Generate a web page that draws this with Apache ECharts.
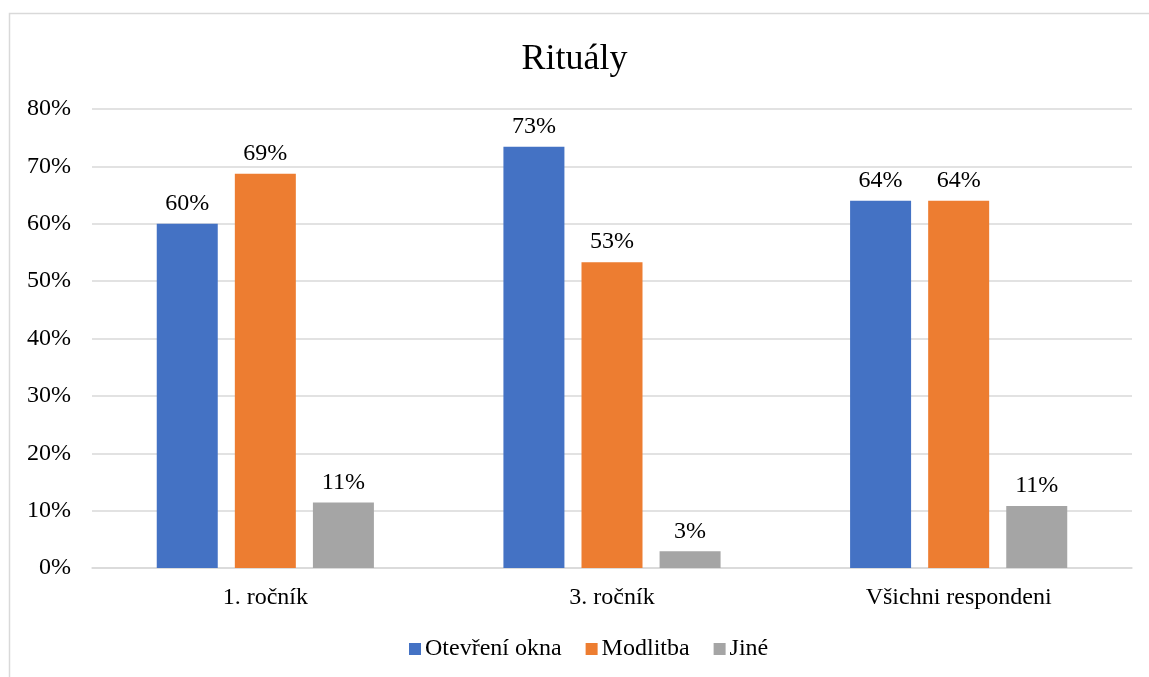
<!DOCTYPE html>
<html>
<head>
<meta charset="utf-8">
<title>Rituály</title>
<script src="https://cdn.jsdelivr.net/npm/echarts@6/dist/echarts.min.js"></script>
<style>
  html, body { margin: 0; padding: 0; background: #ffffff; }
  #chart { width: 1149px; height: 677px; }
</style>
</head>
<body>
<div id="chart"></div>
<script>
// Categories of respondents
const categories = ['1. ročník', '3. ročník', 'Všichni respondeni'];

// Share of respondents per ritual (percent)
const oknaValues = [60, 73.4, 64];
const modlitbaValues = [68.7, 53.3, 64];
const jineValues = [11.4, 2.9, 10.8];

const seriesNames = ['Otevření okna', 'Modlitba', 'Jiné'];
const seriesColors = ['#4472C4', '#ED7D31', '#A5A5A5'];

// Y axis ticks
const yTicks = [0, 10, 20, 30, 40, 50, 60, 70, 80];

const FONT = '"Liberation Serif", "Times New Roman", serif';

const chart = echarts.init(document.getElementById('chart'), null, { renderer: 'canvas' });

const labelStyle = {
  show: true,
  position: 'top',
  distance: 8,
  fontFamily: FONT,
  fontSize: 24,
  color: '#000000',
  formatter: p => Math.round(p.value) + '%'
};

function makeSeries(name, data, color) {
  return {
    name: name,
    type: 'bar',
    data: data,
    barWidth: 61,
    barGap: '28%',
    itemStyle: { color: color },
    label: labelStyle,
    emphasis: { disabled: true }
  };
}

chart.setOption({
  animation: false,
  backgroundColor: '#ffffff',
  graphic: [{
    type: 'rect',
    left: 7,
    top: 11,
    shape: { width: 1200, height: 700 },
    style: { fill: 'none', stroke: '#D9D9D9', lineWidth: 1.5 },
    silent: true,
    z: -1
  }],
  title: {
    text: 'Rituály',
    left: 'center',
    top: 37,
    textStyle: { fontFamily: FONT, fontSize: 36, fontWeight: 'normal', color: '#000000' }
  },
  legend: {
    bottom: 16,
    left: 409,
    itemWidth: 12,
    itemHeight: 12,
    itemGap: 24,
    icon: 'rect',
    padding: 0,
    textStyle: { fontFamily: FONT, fontSize: 24, color: '#000000', padding: [0, 0, 0, -1] },
    data: seriesNames
  },
  grid: {
    left: 92,
    right: 17,
    top: 109,
    bottom: 109,
    containLabel: false
  },
  xAxis: {
    type: 'category',
    data: categories,
    axisTick: { show: false },
    axisLine: { show: true, lineStyle: { color: '#D9D9D9', width: 1.5 } },
    axisLabel: { fontFamily: FONT, fontSize: 24, color: '#000000', margin: 18 }
  },
  yAxis: {
    type: 'value',
    min: yTicks[0],
    max: yTicks[yTicks.length - 1],
    interval: yTicks[1] - yTicks[0],
    axisLine: { show: false },
    axisTick: { show: false },
    splitLine: { lineStyle: { color: '#D9D9D9', width: 1.5 } },
    axisLabel: {
      fontFamily: FONT,
      fontSize: 24,
      color: '#000000',
      margin: 21,
      formatter: v => v + '%'
    }
  },
  series: [
    makeSeries(seriesNames[0], oknaValues, seriesColors[0]),
    makeSeries(seriesNames[1], modlitbaValues, seriesColors[1]),
    makeSeries(seriesNames[2], jineValues, seriesColors[2])
  ]
});
</script>
</body>
</html>
